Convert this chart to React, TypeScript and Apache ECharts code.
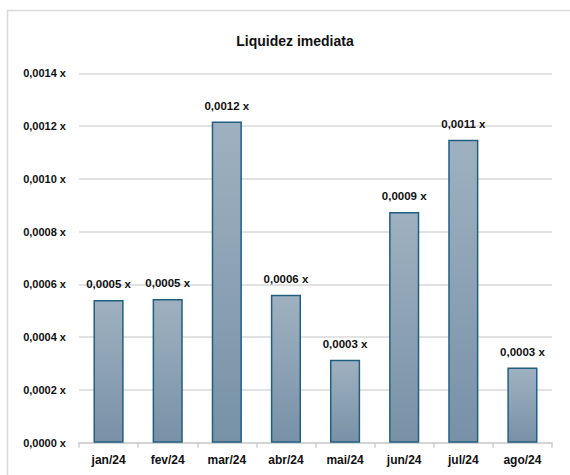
import React, { useEffect, useRef } from "react";
import * as echarts from "echarts";

const categories = ["jan/24", "fev/24", "mar/24", "abr/24", "mai/24", "jun/24", "jul/24", "ago/24"];
const values = [0.000541, 0.000545, 0.001217, 0.000561, 0.000314, 0.000874, 0.001148, 0.000285];
const titleText = "Liquidez imediata";

const fmt = (v: number) => v.toFixed(4).replace(".", ",") + " x";
const FONT = "'Liberation Sans', Arial, sans-serif";

export default function App() {
  const ref = useRef<HTMLDivElement>(null);
  useEffect(() => {
    if (!ref.current) return;
    const chart = echarts.init(ref.current, null, { renderer: "svg" });
    chart.setOption({
      animation: false,
      backgroundColor: "#ffffff",
      title: {
        text: titleText,
        left: 290,
        textAlign: "center",
        top: 29,
        textStyle: { fontFamily: FONT, fontSize: 14, fontWeight: "bold", color: "#111" },
      },
      graphic: [
        {
          type: "rect",
          shape: { x: 7.5, y: 10.5, width: 600, height: 500 },
          style: { fill: "none", stroke: "#d9d9d9", lineWidth: 1.5 },
          silent: true,
          z: -1,
        },
      ],
      grid: { left: 79, right: 18, top: 73.3, bottom: 32.3, containLabel: false },
      xAxis: {
        type: "category",
        data: categories,
        axisLine: { lineStyle: { color: "#cfcfcf", width: 1.5 } },
        axisTick: { show: true, length: 5, lineStyle: { color: "#cfcfcf", width: 1.5 } },
        axisLabel: { fontFamily: FONT, fontSize: 12, fontWeight: "bold", color: "#111", margin: 11 },
      },
      yAxis: {
        type: "value",
        min: 0,
        max: 0.0014,
        interval: 0.0002,
        axisLine: { show: false },
        axisTick: { show: false },
        splitLine: { lineStyle: { color: "#d9d9d9", width: 1.5 } },
        axisLabel: {
          fontFamily: FONT,
          fontSize: 11,
          fontWeight: "bold",
          color: "#111",
          margin: 13,
          formatter: (v: number) => fmt(v),
        },
      },
      series: [
        {
          type: "bar",
          data: values,
          barWidth: "51%",
          itemStyle: {
            color: new echarts.graphic.LinearGradient(0, 0, 0, 1, [
              { offset: 0, color: "#9fb1c0" },
              { offset: 1, color: "#7891a7" },
            ]),
            borderColor: "#215f82",
            borderWidth: 1.5,
          },
          label: {
            show: true,
            position: "top",
            distance: 10,
            fontFamily: FONT,
            fontSize: 11.5,
            fontWeight: "bold",
            color: "#111",
            formatter: (p: any) => fmt(p.value),
          },
        },
      ],
    });
    return () => chart.dispose();
  }, []);
  return (
    <div
      ref={ref}
      style={{ position: "fixed", left: 0, top: 0, width: 570, height: 475 }}
    />
  );
}
